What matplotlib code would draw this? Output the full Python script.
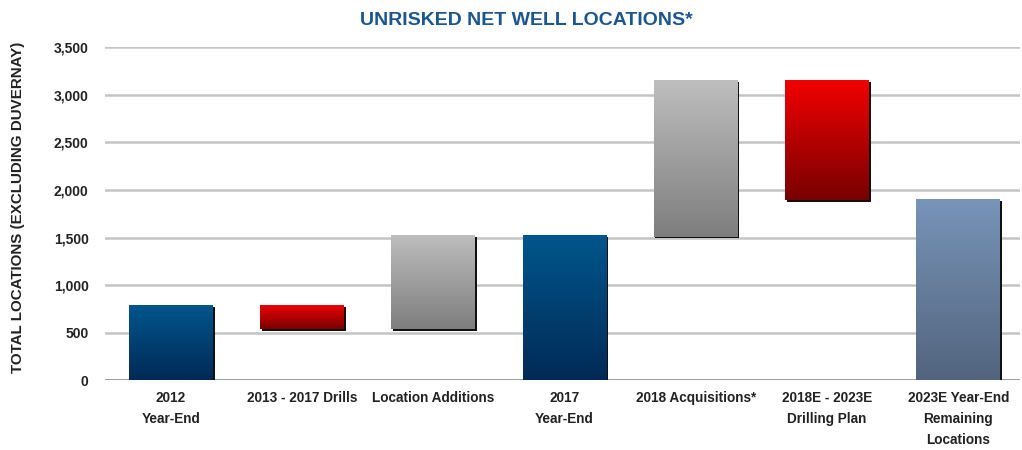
import numpy as np
import matplotlib
matplotlib.use("Agg")
import matplotlib.pyplot as plt
from matplotlib.colors import LinearSegmentedColormap
from matplotlib import patheffects as pe
from matplotlib import font_manager

names = {f.name for f in font_manager.fontManager.ttflist}
font = "Liberation Sans Narrow" if "Liberation Sans Narrow" in names else "Liberation Sans"
plt.rcParams["font.family"] = [font, "DejaVu Sans"]

categories = [
    "2012\nYear-End",
    "2013 - 2017 Drills",
    "Location Additions",
    "2017\nYear-End",
    "2018 Acquisitions*",
    "2018E - 2023E\nDrilling Plan",
    "2023E Year-End\nRemaining\nLocations",
]
bottoms = [0, 535, 535, 0, 1510, 1895, 0]
tops = [790, 790, 1525, 1525, 3155, 3155, 1900]
kinds = ["blue", "red", "gray", "blue", "gray", "red", "steel"]

gradients = {
    "blue": ("#00568D", "#002A55"),
    "red": ("#F20000", "#780000"),
    "gray": ("#BEBEBE", "#7E7E7E"),
    "steel": ("#7894B8", "#52647E"),
}

fig = plt.figure(figsize=(10.22, 4.5), dpi=100)
ax = fig.add_axes([0.103, 0.155, 0.895, 0.74])

x = np.arange(len(categories))
width = 0.64

ticks = np.arange(0, 3501, 500)
for t in ticks:
    ax.axhline(t, color="#808080" if t == 0 else "#C4C4C4", lw=1.8, zorder=1)

grad = np.linspace(1, 0, 256).reshape(-1, 1)
for xi, b, t, k in zip(x, bottoms, tops, kinds):
    top_c, bot_c = gradients[k]
    cmap = LinearSegmentedColormap.from_list(k, [bot_c, top_c])
    rect = ax.bar(xi, t - b, width, bottom=b, color=top_c, zorder=2,
                  linewidth=0)[0]
    rect.set_path_effects([pe.SimplePatchShadow(offset=(1.2, -1.2), shadow_rgbFace="#111111", alpha=1.0),
                           pe.Normal()])
    im = ax.imshow(grad, cmap=cmap, aspect="auto", zorder=3,
                   extent=(xi - width / 2, xi + width / 2, b, t), vmin=0, vmax=1)
    im.set_clip_path(rect)

ax.set_xlim(-0.5, len(categories) - 0.53)
ax.set_ylim(0, 3500)
ax.set_yticks(ticks)
ax.set_yticklabels([f"{t:,}" for t in ticks], fontsize=10, fontweight="bold", color="#222222")
ax.set_xticks(x)
ax.set_xticklabels(categories, fontsize=9.8, fontweight="bold", color="#222222", linespacing=1.6)
ax.tick_params(length=0, pad=8)
ax.tick_params(axis="y", pad=12)
for s in ax.spines.values():
    s.set_visible(False)

fig.text(0.515, 0.955, "UNRISKED NET WELL LOCATIONS*", ha="center", va="center",
         fontsize=14, fontweight="bold", color="#1C5690")
fig.text(0.018, 0.54, "TOTAL LOCATIONS (EXCLUDING DUVERNAY)", ha="center", va="center",
         rotation=90, fontsize=10.9, fontweight="bold", color="#222222")

fig.savefig("out.png", dpi=100)
